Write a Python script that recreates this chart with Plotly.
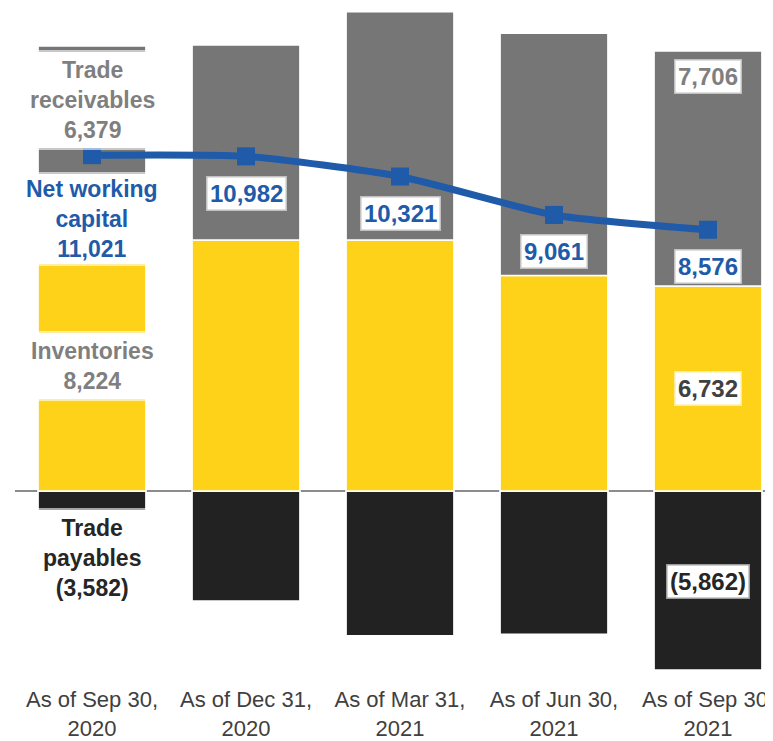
import plotly.graph_objects as go

categories = ["As of Sep 30,<br>2020", "As of Dec 31,<br>2020", "As of Mar 31,<br>2021",
              "As of Jun 30,<br>2021", "As of Sep 30,<br>2021"]
receivables = [6379, 6390, 7485, 7940, 7706]
inventories = [8224, 8240, 8240, 7075, 6732]
payables = [-3582, -3600, -4735, -4690, -5862]
net_working_capital = [11021, 10982, 10321, 9061, 8576]

GRAY = "#767676"
YELLOW = "#FFD21A"
BLACK = "#222222"
BLUE = "#1F5BA8"
FONT = "Liberation Sans, Arial, sans-serif"

fig = go.Figure()
for name, vals, col in [("Inventories", inventories, YELLOW),
                        ("Trade receivables", receivables, GRAY),
                        ("Trade payables", payables, BLACK)]:
    fig.add_trace(go.Bar(x=categories, y=vals, name=name, width=0.7,
                         marker=dict(color=col, line=dict(color="white", width=1.5)),
                         hoverinfo="skip"))

fig.add_trace(go.Scatter(x=categories, y=net_working_capital, mode="lines+markers",
                         name="Net working capital",
                         line=dict(color=BLUE, width=7, shape="spline", smoothing=0.6),
                         marker=dict(symbol="square", size=18, color=BLUE)))


def fmt(v):
    return f"({abs(v):,})" if v < 0 else f"{v:,}"


def label(x, y, text, color, yshift=0, box="glow", pad=3):
    if box == "glow":
        extra = dict(bgcolor="white", bordercolor="rgba(255,255,255,0.55)", borderwidth=3, borderpad=1)
        size = 24
    else:
        extra = dict(bgcolor="white", bordercolor="rgba(255,255,255,0.6)", borderwidth=4, borderpad=pad)
        size = 23
    fig.add_annotation(x=x, y=y, text=f"<b>{text}</b>", showarrow=False, yshift=yshift,
                       yanchor="middle", xanchor="center",
                       font=dict(family=FONT, size=size, color=color), **extra)


# first bar: named labels
c0 = categories[0]
label(c0, inventories[0] + receivables[0], "Trade<br>receivables<br>" + fmt(receivables[0]), "#7F7F7F", -54, "box")
label(c0, net_working_capital[0], "Net working<br>capital<br>" + fmt(net_working_capital[0]), BLUE, -64, "box", 0)
label(c0, inventories[0] / 2, "Inventories<br>" + fmt(inventories[0]), "#7F7F7F", 0, "box")
label(c0, payables[0] / 2, "Trade<br>payables<br>" + fmt(payables[0]), "#262626", -12, "box")

# net working capital labels for other bars
for i in range(1, len(categories)):
    label(categories[i], net_working_capital[i], fmt(net_working_capital[i]), BLUE, -37)

# last bar values
cl = categories[-1]
label(cl, inventories[-1] + receivables[-1], fmt(receivables[-1]), "#7F7F7F", -26)
label(cl, inventories[-1] / 2, fmt(inventories[-1]), "#404040", 0)
label(cl, payables[-1] / 2, fmt(payables[-1]), "#262626", -1)

fig.update_layout(
    width=765, height=733,
    margin=dict(l=7, r=0, t=0, b=61),
    barmode="relative",
    bargap=0.3,
    showlegend=False,
    plot_bgcolor="white",
    paper_bgcolor="white",
    font=dict(family=FONT),
)
fig.update_xaxes(range=[-0.5, 4.422], showline=False, showgrid=False, ticks="",
                 ticklabelstandoff=4, automargin=False,
                 tickfont=dict(family=FONT, size=22, color="#404040"))
fig.update_yaxes(range=[-6187, 15846], showticklabels=False, showgrid=False,
                 zeroline=True, zerolinecolor="#8C8C8C", zerolinewidth=1.5)

fig.write_html("out.html")
